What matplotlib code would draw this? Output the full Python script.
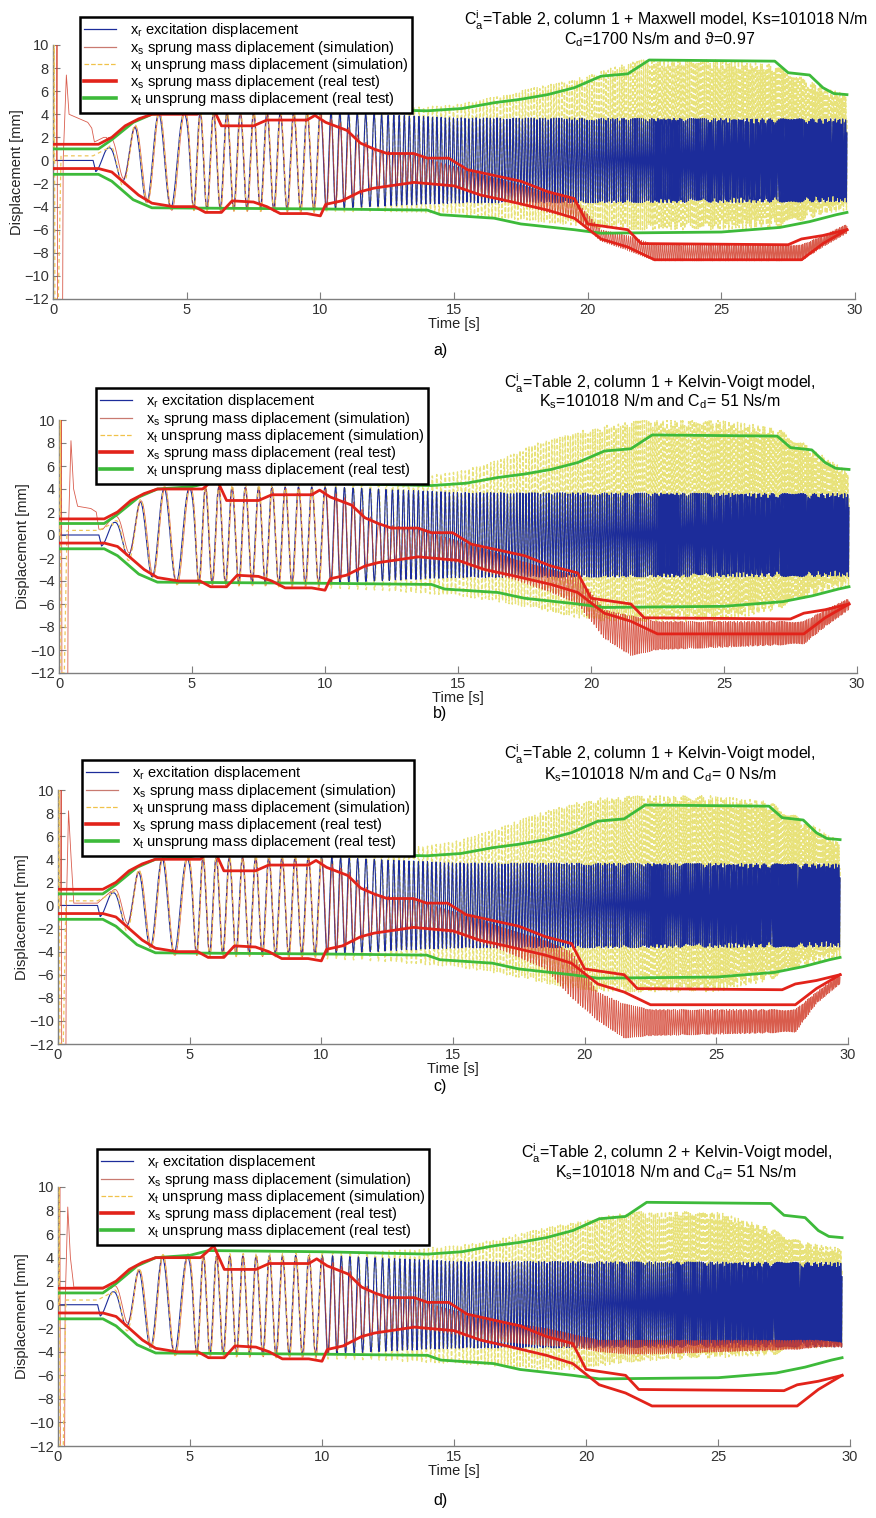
import numpy as np
import matplotlib.pyplot as plt
from matplotlib.lines import Line2D

plt.rcParams['font.family'] = ['Liberation Sans', 'DejaVu Sans']
plt.rcParams['mathtext.fontset'] = 'custom'
plt.rcParams['mathtext.rm'] = 'Liberation Sans'
plt.rcParams['mathtext.it'] = 'Liberation Sans:italic'

FIG_W, FIG_H = 876, 1518
DT = 0.01
T_END = 29.7

# excitation: stepped sine sweep (frequency and amplitude break points)
sweep_t = [1.5, 3.0, 4.2, 5.0, 5.2, 10.0, 10.4, 12.0, 12.8, 16.0, 20.0, 25.0, 29.7]
sweep_hz = [0.9, 1.1, 1.1, 0.95, 2.0, 2.0, 3.0, 3.2, 5.0, 7.5, 11.0, 15.0, 18.0]
exc_t = [1.5, 1.6, 2.1, 2.7, 3.1, 3.6, 4.0, 10.0, 15.0, 29.7]
exc_amp = [0.0, 1.0, 1.1, 2.0, 3.0, 3.8, 4.1, 4.2, 3.7, 3.6]

# real test envelopes (same measurement in every panel)
rs_up_t = [0, 1.7, 2.2, 2.7, 3.2, 3.7, 5.4, 5.9, 6.3, 7.5, 8.0, 9.5, 9.8, 10.2, 11.0, 11.5,
           12.0, 12.5, 13.5, 14.0, 14.8, 15.5, 16.5, 17.5, 18.5, 19.5, 20.0, 21.5, 22.0,
           27.5, 28.0, 28.8, 29.7]
rs_up = [1.4, 1.4, 2.0, 3.0, 3.6, 4.0, 4.0, 5.0, 3.0, 3.0, 3.5, 3.5, 3.9, 3.3, 2.6, 1.5,
         1.0, 0.6, 0.6, 0.2, 0.2, -0.8, -1.3, -1.8, -2.7, -3.3, -5.5, -6.0, -7.2,
         -7.3, -6.8, -6.5, -6.0]
rs_lo_t = [0, 1.7, 2.2, 2.7, 3.2, 3.7, 4.5, 5.3, 5.7, 6.3, 6.7, 7.5, 8.0, 8.5, 9.5, 10.0,
           10.2, 10.8, 11.5, 12.0, 13.5, 15.0, 16.0, 17.0, 18.5, 19.5, 20.5, 21.5, 22.5,
           28.0, 28.8, 29.7]
rs_lo = [-0.7, -0.7, -1.0, -2.0, -3.0, -3.7, -4.0, -4.0, -4.5, -4.5, -3.5, -3.6, -4.0,
         -4.6, -4.6, -4.8, -3.8, -3.5, -2.7, -2.4, -1.9, -2.2, -3.0, -3.5, -4.3, -5.0,
         -6.8, -7.5, -8.6, -8.6, -7.2, -6.0]
rt_up_t = [0, 1.7, 2.2, 3.0, 3.7, 5.0, 5.7, 10.0, 14.0, 15.3, 16.5, 17.5, 18.5, 19.5,
           20.5, 21.5, 22.3, 27.0, 27.5, 28.3, 28.8, 29.2, 29.7]
rt_up = [1.0, 1.0, 1.8, 3.3, 4.0, 4.2, 4.6, 4.5, 4.3, 4.5, 5.0, 5.3, 5.7, 6.3,
         7.3, 7.5, 8.7, 8.6, 7.6, 7.4, 6.3, 5.8, 5.7]
rt_lo_t = [0, 1.7, 2.2, 3.0, 3.7, 10.0, 14.0, 14.5, 16.5, 17.5, 19.5, 20.5, 25.0, 27.2,
           28.3, 29.3, 29.7]
rt_lo = [-1.2, -1.2, -1.8, -3.4, -4.1, -4.2, -4.3, -4.7, -5.0, -5.5, -6.0, -6.3, -6.2,
         -5.8, -5.3, -4.7, -4.5]

# simulated sprung mass: start-up transient per panel
xs0_t_a = [0, 0.13, 0.15, 0.17, 0.36, 0.38, 0.5, 0.6, 0.8, 1.3, 1.45, 1.55, 1.9, 2.0]
xs0_a = [0, 0, 13, -13, -13, 0, 7.4, 4.0, 3.8, 3.3, 2.8, 1.6, 2.0, 2.0]
xs0_t_b = [0, 0.07, 0.09, 0.11, 0.33, 0.35, 0.45, 0.55, 0.7, 1.2, 1.4, 1.5, 1.65, 2.0]
xs0_b = [0, 0, 13, -13, -13, 0, 8.2, 4.0, 2.5, 2.3, 2.0, 0.5, 0.5, 1.5]
xs0_t_c = [0, 0.1, 0.12, 0.14, 0.3, 0.32, 0.4, 0.5, 0.6, 1.5, 2.0]
xs0_c = [0, 0, 13, -13, -13, 0, 8.2, 4.0, 0.2, 0.2, 1.2]
xs0_t_d = [0, 0.05, 0.07, 0.09, 0.25, 0.27, 0.37, 0.47, 0.6, 1.5, 2.0]
xs0_d = [0, 0, 13, -13, -13, 0, 8.3, 4.0, 1.5, 1.5, 1.5]

# simulated sprung mass: oscillation band (upper / lower) per panel
xs_band_t = [2.0, 2.6, 3.1, 3.6, 4.0, 10.0, 11.0, 12.0, 13.5, 15.0, 16.0, 17.0, 18.5,
             19.5, 20.5, 21.5, 22.5, 28.0, 28.8, 29.7]
xs_top_a = [2.0, 2.0, 3.0, 3.8, 4.2, 4.0, 3.0, 1.0, 0.5, -0.5, -1.2, -1.8, -2.8, -3.3,
            -6.0, -6.5, -7.3, -7.3, -6.5, -5.5]
xs_bot_a = [1.0, -1.5, -2.5, -3.7, -4.3, -4.5, -3.5, -2.5, -2.0, -2.2, -3.0, -3.5, -4.5,
            -5.0, -7.0, -7.8, -8.7, -8.7, -7.5, -6.3]
xs_top_b = [1.5, 2.0, 3.0, 3.8, 4.2, 4.0, 3.0, 1.0, 0.5, -0.5, -1.2, -2.0, -3.0, -3.5,
            -6.5, -7.0, -7.5, -7.5, -6.5, -5.5]
xs_bot_b = [0.5, -1.5, -2.5, -3.7, -4.3, -4.5, -3.5, -2.5, -2.0, -2.4, -3.2, -3.8, -5.0,
            -6.0, -9.0, -10.5, -10.0, -9.5, -8.0, -6.5]
xs_top_c = [1.2, 2.0, 3.0, 3.8, 4.2, 4.0, 3.0, 1.0, 0.5, -0.5, -1.2, -2.0, -3.0, -4.0,
            -7.5, -8.5, -9.0, -9.0, -7.5, -6.0]
xs_bot_c = [0.2, -1.5, -2.5, -3.7, -4.3, -4.5, -3.5, -2.5, -2.0, -2.4, -3.2, -4.0, -5.5,
            -8.0, -10.0, -11.5, -11.3, -11.0, -8.5, -6.8]
xs_top_d = [1.5, 2.0, 3.0, 3.8, 4.2, 4.0, 3.0, 1.0, 0.5, -0.5, -1.0, -1.5, -2.0, -2.5,
            -3.0, -3.0, -3.0, -3.0, -3.0, -3.2]
xs_bot_d = [0.5, -1.5, -2.5, -3.7, -4.3, -4.5, -3.5, -2.5, -2.0, -2.5, -3.0, -3.2, -3.5,
            -3.6, -4.0, -4.2, -4.2, -3.8, -3.6, -3.6]

# simulated unsprung mass: start-up transient and oscillation band per panel
xt0_t = [0, 0.03, 0.05, 0.07, 0.2, 0.3, 1.5, 2.0]
xt0 = [0, 0, 11, -12, -12, 0.4, 0.4, 1.0]
xt_band_t = [2.0, 3.0, 4.0, 10.0, 12.0, 15.0, 16.5, 18.0, 19.5, 20.5, 22.0, 25.0, 27.0,
             28.0, 29.0, 29.7]
xt_top_a = [1.0, 3.0, 4.3, 4.4, 4.4, 4.8, 5.5, 6.3, 7.0, 7.8, 8.7, 8.7, 8.3, 7.2, 6.2, 5.8]
xt_bot_a = [-1.0, -3.0, -4.3, -4.5, -4.4, -4.6, -5.0, -5.3, -5.6, -5.9, -6.0, -6.0, -5.8,
            -5.2, -4.6, -4.3]
xt_top_b = [1.0, 3.0, 4.3, 4.4, 4.6, 5.5, 6.5, 8.0, 9.0, 9.5, 10.0, 10.0, 9.3, 8.0, 6.5, 5.5]
xt_bot_b = [-1.0, -3.0, -4.3, -4.6, -4.8, -5.3, -5.8, -6.5, -7.2, -7.5, -7.5, -7.5, -6.5,
            -5.5, -4.8, -4.5]
xt_top_c = [1.0, 3.0, 4.3, 4.4, 4.6, 5.5, 6.5, 7.8, 8.8, 9.3, 9.5, 9.5, 9.0, 7.8, 6.5, 5.5]
xt_bot_c = [-1.0, -3.0, -4.3, -4.6, -4.8, -5.3, -5.8, -6.5, -7.2, -7.5, -7.5, -7.5, -6.5,
            -5.5, -4.8, -4.5]
xt_top_d = [1.0, 3.0, 4.3, 4.4, 4.5, 5.0, 5.5, 6.3, 7.0, 7.5, 7.9, 7.9, 6.5, 5.5, 5.0, 4.8]
xt_bot_d = [-1.0, -3.0, -4.3, -4.6, -4.7, -5.0, -5.2, -5.5, -5.5, -5.2, -4.8, -4.5, -4.3,
            -3.8, -3.6, -3.6]

title_lines = [
    (r'C$_\mathrm{a}^\mathrm{i}$=Table 2, column 1 + Maxwell model, Ks=101018 N/m',
     r'C$_\mathrm{d}$=1700 Ns/m and ϑ=0.97'),
    (r'C$_\mathrm{a}^\mathrm{i}$=Table 2, column 1 + Kelvin-Voigt model,',
     r'K$_\mathrm{s}$=101018 N/m and C$_\mathrm{d}$= 51 Ns/m'),
    (r'C$_\mathrm{a}^\mathrm{i}$=Table 2, column 1 + Kelvin-Voigt model,',
     r'K$_\mathrm{s}$=101018 N/m and C$_\mathrm{d}$= 0 Ns/m'),
    (r'C$_\mathrm{a}^\mathrm{i}$=Table 2, column 2 + Kelvin-Voigt model,',
     r'K$_\mathrm{s}$=101018 N/m and C$_\mathrm{d}$= 51 Ns/m'),
]
panel_tags = ['a)', 'b)', 'c)', 'd)']
legend_labels = [
    r'x$_\mathrm{r}$ excitation displacement',
    r'x$_\mathrm{s}$ sprung mass diplacement (simulation)',
    r'x$_\mathrm{t}$ unsprung mass diplacement (simulation)',
    r'x$_\mathrm{s}$ sprung mass diplacement (real test)',
    r'x$_\mathrm{t}$ unsprung mass diplacement (real test)',
]

# pixel layout: axes box (left, top, right, bottom), title centres, legend corner, tag y
ax_px = [(53, 45, 855, 299), (59, 420, 857, 673), (58, 790, 848, 1044), (58, 1187, 850, 1446)]
title_px = [((666, 20), (660, 40)), ((660, 383), (660, 402)),
            ((660, 754), (660, 775)), ((677, 1153), (676, 1173))]
legend_px = [(80, 17), (96, 388), (82, 760), (97, 1149)]
tag_y = [351, 714, 1087, 1500]
T_SPLIT = 10.0  # yellow trace drawn over the excitation before this time, under it after

C_BLUE = '#1c2c9a'
C_SIM_S = '#d2402e'
C_SIM_T = '#e8e27a'
C_RED = '#e2231a'
C_GREEN = '#3dba3a'
C_AXIS = '#7f7f7f'

# time base and sweep phase
t = np.arange(0, T_END + DT / 2, DT)
freq = np.interp(t, sweep_t, sweep_hz)
phase = 2 * np.pi * np.cumsum(freq) * DT
phase = phase - np.interp(1.55, t, phase) - np.pi / 2
x_r = np.where(t < 1.5, 0.0, np.interp(t, exc_t, exc_amp) * np.sin(phase))


def band_signal(bt, top, bot, lag):
    hi = np.interp(t, bt, top)
    lo = np.interp(t, bt, bot)
    return (hi + lo) / 2 + (hi - lo) / 2 * np.sin(phase - lag)


def with_transient(tr_t, tr_v, sig):
    keep = t > tr_t[-1]
    return np.concatenate([tr_t, t[keep]]), np.concatenate([tr_v, sig[keep]])


xs_sets = [(xs0_t_a, xs0_a, xs_top_a, xs_bot_a), (xs0_t_b, xs0_b, xs_top_b, xs_bot_b),
           (xs0_t_c, xs0_c, xs_top_c, xs_bot_c), (xs0_t_d, xs0_d, xs_top_d, xs_bot_d)]
xt_sets = [(xt_top_a, xt_bot_a), (xt_top_b, xt_bot_b), (xt_top_c, xt_bot_c), (xt_top_d, xt_bot_d)]

fig = plt.figure(figsize=(FIG_W / 100, FIG_H / 100), dpi=100)

for i in range(4):
    l, tp, r, b = ax_px[i]
    ax = fig.add_axes([l / FIG_W, 1 - b / FIG_H, (r - l) / FIG_W, (b - tp) / FIG_H])

    # unsprung mass simulation: late part behind the excitation, early part on top
    xt_top, xt_bot = xt_sets[i]
    tt, xt = with_transient(xt0_t, xt0, band_signal(xt_band_t, xt_top, xt_bot, 0.15))
    late = tt >= T_SPLIT - DT
    ax.plot(tt[late], xt[late], color=C_SIM_T, lw=1.0, dashes=(3, 1.5), zorder=1)

    ax.plot(t, x_r, color=C_BLUE, lw=0.8, zorder=2)

    tr_t, tr_v, s_top, s_bot = xs_sets[i]
    ts, xs = with_transient(tr_t, tr_v, band_signal(xs_band_t, s_top, s_bot, 0.25))
    ax.plot(ts, xs, color=C_SIM_S, lw=0.6, alpha=0.85, zorder=3)

    early = tt <= T_SPLIT
    ax.plot(tt[early], xt[early], color='#eec65a', lw=0.9, dashes=(3, 2.5), zorder=3.5)

    ax.plot(rt_up_t, rt_up, color=C_GREEN, lw=2.0, zorder=4)
    ax.plot(rt_lo_t, rt_lo, color=C_GREEN, lw=2.0, zorder=4)
    ax.plot(rs_up_t, rs_up, color=C_RED, lw=2.0, zorder=5)
    ax.plot(rs_lo_t, rs_lo, color=C_RED, lw=2.0, zorder=5)

    if i == 2:
        ax.axvline(30, color=C_AXIS, lw=0.7, ls=':')

    ax.set_xlim(0, 30)
    ax.set_ylim(-12, 10)
    ax.set_xticks(range(0, 31, 5))
    ax.set_yticks(range(-12, 11, 2))
    for side in ('top', 'right'):
        ax.spines[side].set_visible(False)
    for side in ('left', 'bottom'):
        ax.spines[side].set_color(C_AXIS)
        ax.spines[side].set_linewidth(1.0)
    ax.tick_params(direction='in', length=5, color=C_AXIS, labelsize=10.5,
                   labelcolor='#333333', pad=3)
    ax.set_xlabel('Time [s]', fontsize=10.5, labelpad=0, color='#222222')
    ax.set_ylabel('Displacement [mm]', fontsize=10.5, labelpad=0, color='#222222')
    ax.set_facecolor('none')

    handles = [Line2D([], [], color=C_BLUE, lw=0.9),
               Line2D([], [], color='#c97a70', lw=0.9),
               Line2D([], [], color='#f0c24a', lw=0.9, ls='--'),
               Line2D([], [], color=C_RED, lw=2.6),
               Line2D([], [], color=C_GREEN, lw=2.6)]
    lx, ly = legend_px[i]
    leg = ax.legend(handles, legend_labels, loc='upper left',
                    bbox_to_anchor=(lx / FIG_W, 1 - ly / FIG_H),
                    bbox_transform=fig.transFigure, borderaxespad=0,
                    fontsize=10.5, labelspacing=-0.05, handlelength=2.2, handletextpad=0.9,
                    borderpad=0.3, fancybox=False, framealpha=1)
    leg.get_frame().set_edgecolor('black')
    leg.get_frame().set_linewidth(1.8)
    leg.set_zorder(10)

    (x1, y1), (x2, y2) = title_px[i]
    line1, line2 = title_lines[i]
    fig.text(x1 / FIG_W, 1 - y1 / FIG_H, line1, ha='center', va='center', fontsize=11.5)
    fig.text(x2 / FIG_W, 1 - y2 / FIG_H, line2, ha='center', va='center', fontsize=11.5)
    fig.text(440 / FIG_W, 1 - tag_y[i] / FIG_H, panel_tags[i], ha='center', va='center',
             fontsize=11.5)

fig.savefig('out.png', dpi=100, facecolor='white')
